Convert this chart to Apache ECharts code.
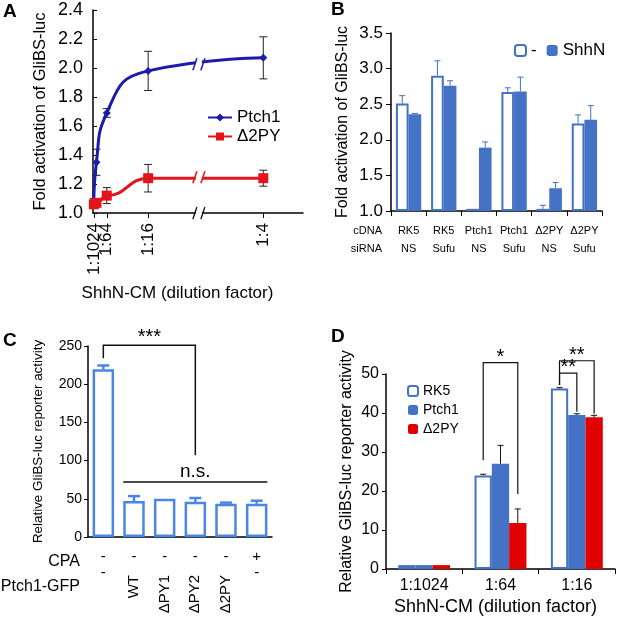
<!DOCTYPE html>
<html><head><meta charset="utf-8">
<script src="https://cdn.jsdelivr.net/npm/echarts@6/dist/echarts.min.js"></script>
<style>html,body{margin:0;padding:0;background:#fff}#c{width:617px;height:619px}</style>
</head><body><div id="c"></div>
<script>
const FONT = '"Liberation Sans", Arial, sans-serif';

// ---------- Panel A ----------
const dilutionA = [1/1024, 1/256, 1/64, 1/16, 1/4];
const ptch1A = [1.08, 1.35, 1.69, 1.98, 2.07];
const ptch1ErrA = [0.02, 0.09, 0.03, 0.135, 0.145];
const d2pyA = [1.06, 1.07, 1.12, 1.24, 1.24];
const d2pyErrA = [0.02, 0.02, 0.055, 0.095, 0.055];
const tickValuesA = [1/1024, 1/64, 1/16, 1/4];
const tickLabelsA = ['1:1024', '1:64', '1:16', '1:4'];
const breakA = {start: 0.12, end: 0.177};

// ---------- Panel B ----------
const cdnaB = ['RK5', 'RK5', 'Ptch1', 'Ptch1', 'Δ2PY', 'Δ2PY'];
const sirnaB = ['NS', 'Sufu', 'NS', 'Sufu', 'NS', 'Sufu'];
const noShhB = [2.51, 2.90, 1.03, 2.67, 1.03, 2.23];
const noShhErrB = [0.11, 0.21, 0, 0.06, 0.05, 0.12];
const shhB = [2.36, 2.76, 1.89, 2.68, 1.32, 2.28];
const shhErrB = [0.01, 0.07, 0.08, 0.20, 0.08, 0.20];

// ---------- Panel C ----------
const cpaC = ['-', '-', '-', '-', '-', '+'];
const ptch1GfpC = ['-', 'WT', 'ΔPY1', 'ΔPY2', 'Δ2PY', '-'];
const valuesC = [219.5, 47, 50, 46, 43.5, 43.5];
const errC = [5, 6.5, 0.5, 5, 1.5, 4];
// [fromCat, fromY, level, toCat, toY, labelY]
const bracketsC = [[0, 234, 251, 3, 107, 261]];
const bracketLabelsC = ['***'];
// [fromCat, toCat, level, labelY]
const nsLinesC = [[1, 5, 72, 85]];
const nsLabelsC = ['n.s.'];

// ---------- Panel D ----------
const dilutionD = ['1:1024', '1:64', '1:16'];
const rk5D = [1.0, 24.0, 46.3];
const rk5ErrD = [0.05, 0.3, 0.2];
const ptch1D = [1.0, 27.0, 39.5];
const ptch1ErrD = [0.05, 4.7, 0.3];
const d2pyD = [1.0, 11.8, 38.9];
const d2pyErrD = [0.05, 3.6, 0.5];
// [cat, fromBar, fromY, level, toBar, toY, labelY]
const bracketsD = [
  [1, 0, 27.9, 52.9, 2, 19.2, 54.3],
  [2, 0, 47.2, 53.4, 2, 39.8, 54.8],
  [2, 0, 47.2, 50.2, 1, 40.3, 51.6]
];
const bracketLabelsD = ['*', '**', '**'];

// ---------- colours ----------
const BLUE_A = '#1c1cab', RED_A = '#e3151b';
const BLUE_B = '#4472c4', BLUE_C = '#4a86e8', RED_D = '#e00000';

function txt(size) { return {fontSize: size, fontFamily: FONT, color: '#000'}; }
const axisLineBlack = {show: true, lineStyle: {color: '#000', width: 1.5}};

function errBarRender(groupCount, idx, gapFrac, color, capW, lw) {
  return function (params, api) {
    const cat = api.value(0);
    const p0 = api.coord([cat, api.value(1)]);
    const p1 = api.coord([cat, api.value(2)]);
    const band = api.size([1, 0])[0];
    const gw = band * (1 - gapFrac);
    const bw = gw / groupCount;
    const x = p0[0] - gw / 2 + bw * (idx + 0.5);
    if (Math.abs(p0[1] - p1[1]) < 0.5) return null;
    return {type: 'group', children: [
      {type: 'line', shape: {x1: x, y1: p0[1], x2: x, y2: p1[1]}, style: {stroke: color, lineWidth: lw}},
      {type: 'line', shape: {x1: x - capW / 2, y1: p1[1], x2: x + capW / 2, y2: p1[1]}, style: {stroke: color, lineWidth: lw}}
    ]};
  };
}
function errSeries(xi, yi, vals, errs, groupCount, idx, gapFrac, color, capW, lw) {
  return {type: 'custom', xAxisIndex: xi, yAxisIndex: yi, clip: false, z: 5,
    renderItem: errBarRender(groupCount, idx, gapFrac, color, capW, lw),
    encode: {x: 0, y: [1, 2]},
    data: vals.map((v, i) => [i, v, v + errs[i]])};
}
function errLineSeries(xs, vals, errs, color) {
  return {type: 'custom', xAxisIndex: 0, yAxisIndex: 0, clip: false, z: 1,
    encode: {x: 0, y: [1, 2]},
    data: vals.map((v, i) => [xs[i], v - errs[i], v + errs[i]]),
    renderItem: function (params, api) {
      const a = api.coord([api.value(0), api.value(1)]);
      const b = api.coord([api.value(0), api.value(2)]);
      const x = a[0];
      return {type: 'group', children: [
        {type: 'line', shape: {x1: x, y1: a[1], x2: x, y2: b[1]}, style: {stroke: color, lineWidth: 1}},
        {type: 'line', shape: {x1: x - 4, y1: a[1], x2: x + 4, y2: a[1]}, style: {stroke: color, lineWidth: 1}},
        {type: 'line', shape: {x1: x - 4, y1: b[1], x2: x + 4, y2: b[1]}, style: {stroke: color, lineWidth: 1}}
      ]};
    }};
}
function labelForA(v) {
  let best = 0;
  tickValuesA.forEach((t, i) => { if (Math.abs(t - v) < Math.abs(tickValuesA[best] - v)) best = i; });
  return tickLabelsA[best];
}
// Panel A x axis; labels split over two overlaid axes so the close 1:1024 / 1:64 labels both show
function axisA(values, withLine) {
  return {
    type: 'value', gridIndex: 0, min: 0, max: 0.295, position: 'bottom',
    breaks: [{start: breakA.start, end: breakA.end, gap: 0}],
    breakArea: {show: false, expandOnClick: false, itemStyle: {opacity: 0}},
    axisLine: withLine ? axisLineBlack : {show: false},
    axisTick: {show: true, length: 5, customValues: values, lineStyle: {color: '#000'}},
    axisLabel: {customValues: values, rotate: 90, margin: 10, hideOverlap: false, ...txt(17), formatter: labelForA},
    splitLine: {show: false}
  };
}

const GAP_B = 0.28, GAP_C = 0.30, GAP_D = 0.32;

const option = {
  animation: false,
  backgroundColor: '#fff',
  textStyle: {fontFamily: FONT},
  grid: [
    {left: 93, top: 10, width: 210, height: 203, outerBoundsMode: 'none'},
    {left: 391, top: 33, width: 211, height: 178, outerBoundsMode: 'none'},
    {left: 88, top: 346, width: 184, height: 191, outerBoundsMode: 'none'},
    {left: 386, top: 374, width: 229, height: 195, outerBoundsMode: 'none'}
  ],
  legend: [
    {data: ['Ptch1', 'Δ2PY'], left: 202, top: 104, orient: 'vertical', itemWidth: 24, itemHeight: 10, itemGap: 2,
      textStyle: txt(17), selectedMode: false},
    {data: ['B:-', 'B:ShhN'], left: 509, top: 37, itemWidth: 11, itemHeight: 11, itemGap: 10,
      formatter: n => n.slice(2), textStyle: txt(17), selectedMode: false},
    {data: ['D:RK5', 'D:Ptch1', 'D:Δ2PY'], left: 402, top: 379, orient: 'vertical', itemWidth: 10, itemHeight: 10, itemGap: 5,
      formatter: n => n.slice(2), textStyle: txt(14), selectedMode: false}
  ],
  xAxis: [
    Object.assign(axisA([tickValuesA[0], tickValuesA[2], tickValuesA[3]], true), {
      name: 'ShhN-CM (dilution factor)', nameLocation: 'middle', nameGap: 72,
      nameTextStyle: {...txt(17), padding: [0, 41, 0, 0]}
    }),
    { // 1: B
      type: 'category', gridIndex: 1, data: cdnaB,
      axisLine: axisLineBlack,
      axisTick: {show: true, length: 5, lineStyle: {color: '#000'}},
      axisLabel: {interval: 0, margin: 11, lineHeight: 18, ...txt(11),
        formatter: (v, i) => cdnaB[i] + '\n' + sirnaB[i]}
    },
    { // 2: C, CPA row
      type: 'category', gridIndex: 2, data: cpaC,
      axisLine: axisLineBlack, axisTick: {show: false},
      axisLabel: {interval: 0, margin: 12, ...txt(15)}
    },
    { // 3: C, Ptch1-GFP dash row
      type: 'category', gridIndex: 2, data: ptch1GfpC, position: 'bottom',
      axisLine: {show: false}, axisTick: {show: false},
      axisLabel: {interval: 0, margin: 28, ...txt(15), formatter: (v, i) => ptch1GfpC[i] === '-' ? '-' : ''}
    },
    { // 4: C, Ptch1-GFP rotated names
      type: 'category', gridIndex: 2, data: ptch1GfpC, position: 'bottom',
      axisLine: {show: false}, axisTick: {show: false},
      axisLabel: {interval: 0, margin: 38, rotate: 90, ...txt(15), formatter: (v, i) => ptch1GfpC[i] === '-' ? '' : ptch1GfpC[i]}
    },
    { // 5: D
      type: 'category', gridIndex: 3, data: dilutionD,
      axisLine: axisLineBlack,
      axisTick: {show: true, length: 5, lineStyle: {color: '#000'}},
      axisLabel: {interval: 0, margin: 9, ...txt(16)},
      name: 'ShhN-CM (dilution factor)', nameLocation: 'middle', nameGap: 29,
      nameTextStyle: {...txt(18), padding: [0, 10, 0, 0]}
    },
    axisA([tickValuesA[1]], false) // 6: A, second label layer
  ],
  yAxis: [
    {type: 'value', gridIndex: 0, min: 1, max: 2.4, interval: 0.2,
      axisLine: axisLineBlack, axisTick: {show: true, inside: true, length: 4, lineStyle: {color: '#000'}},
      axisLabel: {margin: 10, ...txt(18), formatter: v => v.toFixed(1)}, splitLine: {show: false},
      name: 'Fold activation of GliBS-luc', nameLocation: 'middle', nameGap: 44, nameTextStyle: txt(16.5)},
    {type: 'value', gridIndex: 1, min: 1, max: 3.5, interval: 0.5, startValue: 1,
      axisLine: axisLineBlack, axisTick: {show: true, length: 5, lineStyle: {color: '#000'}},
      axisLabel: {margin: 8, ...txt(17), formatter: v => v.toFixed(1)}, splitLine: {show: false},
      name: 'Fold activation of GliBS-luc', nameLocation: 'middle', nameGap: 40, nameTextStyle: txt(16)},
    {type: 'value', gridIndex: 2, min: 0, max: 250, interval: 50,
      axisLine: axisLineBlack, axisTick: {show: true, length: 4, lineStyle: {color: '#000'}},
      axisLabel: {margin: 6, ...txt(14)}, splitLine: {show: false},
      name: 'Relative GliBS-luc reporter activity', nameLocation: 'middle', nameGap: 43, nameTextStyle: txt(13.4)},
    {type: 'value', gridIndex: 3, min: 0, max: 50, interval: 10,
      axisLine: axisLineBlack, axisTick: {show: true, length: 4, lineStyle: {color: '#000'}},
      axisLabel: {margin: 7, ...txt(16)}, splitLine: {show: false},
      name: 'Relative GliBS-luc reporter activity', nameLocation: 'middle', nameGap: 31, nameTextStyle: txt(16)}
  ],
  series: [
    // ----- A -----
    errLineSeries(dilutionA, ptch1A, ptch1ErrA, '#222'),
    errLineSeries(dilutionA, d2pyA, d2pyErrA, '#222'),
    {name: 'Ptch1', type: 'line', xAxisIndex: 0, yAxisIndex: 0, smooth: 0.55,
      symbol: 'diamond', symbolSize: 8, z: 3,
      lineStyle: {color: BLUE_A, width: 3}, itemStyle: {color: BLUE_A},
      data: dilutionA.map((x, i) => [x, ptch1A[i]])},
    {name: 'Δ2PY', type: 'line', xAxisIndex: 0, yAxisIndex: 0, smooth: 0.5, smoothMonotone: 'x',
      symbol: 'rect', symbolSize: 10, z: 4,
      lineStyle: {color: RED_A, width: 3}, itemStyle: {color: RED_A},
      data: dilutionA.map((x, i) => [x, d2pyA[i]])},
    // ----- B -----
    {name: 'B:-', type: 'bar', xAxisIndex: 1, yAxisIndex: 1, barGap: '0%', barCategoryGap: (GAP_B * 100) + '%',
      itemStyle: {color: '#fff', borderColor: BLUE_B, borderWidth: 2}, data: noShhB},
    {name: 'B:ShhN', type: 'bar', xAxisIndex: 1, yAxisIndex: 1, barGap: '0%', barCategoryGap: (GAP_B * 100) + '%',
      itemStyle: {color: BLUE_B}, data: shhB},
    errSeries(1, 1, noShhB, noShhErrB, 2, 0, GAP_B, BLUE_B, 6, 1),
    errSeries(1, 1, shhB, shhErrB, 2, 1, GAP_B, BLUE_B, 6, 1),
    // ----- C -----
    {name: 'C', type: 'bar', xAxisIndex: 2, yAxisIndex: 2, barCategoryGap: (GAP_C * 100) + '%',
      itemStyle: {color: '#fff', borderColor: BLUE_C, borderWidth: 2.5}, data: valuesC},
    errSeries(2, 2, valuesC, errC, 1, 0, GAP_C, BLUE_C, 12, 2.5),
    {type: 'custom', xAxisIndex: 2, yAxisIndex: 2, clip: false, z: 6,
      encode: {x: [0, 3], y: [1, 2, 4]},
      data: bracketsC,
      renderItem: function (params, api) {
        const a = api.coord([api.value(0), api.value(1)]);
        const top = api.coord([api.value(0), api.value(2)])[1];
        const b = api.coord([api.value(3), api.value(4)]);
        const ly = api.coord([api.value(0), api.value(5)])[1];
        return {type: 'group', children: [
          {type: 'polyline', shape: {points: [[a[0], a[1]], [a[0], top], [b[0], top], [b[0], b[1]]]},
            style: {stroke: '#111', lineWidth: 1.5, fill: null}},
          {type: 'text', x: (a[0] + b[0]) / 2, y: ly,
            style: {text: bracketLabelsC[params.dataIndex], fontSize: 20, fontFamily: FONT, fill: '#000', align: 'center', verticalAlign: 'middle'}}
        ]};
      }},
    {type: 'custom', xAxisIndex: 2, yAxisIndex: 2, clip: false, z: 6,
      encode: {x: [0, 1], y: [2, 3]},
      data: nsLinesC,
      renderItem: function (params, api) {
        const band = api.size([1, 0])[0];
        const half = band * (1 - GAP_C) / 2;
        const a = api.coord([api.value(0), api.value(2)]);
        const b = api.coord([api.value(1), api.value(2)]);
        const ly = api.coord([api.value(0), api.value(3)])[1];
        return {type: 'group', children: [
          {type: 'line', shape: {x1: a[0] - half, y1: a[1], x2: b[0] + half, y2: b[1]}, style: {stroke: '#111', lineWidth: 1.5}},
          {type: 'text', x: (a[0] - half + b[0] + half) / 2, y: ly,
            style: {text: nsLabelsC[params.dataIndex], fontSize: 19, fontFamily: FONT, fill: '#000', align: 'center', verticalAlign: 'middle'}}
        ]};
      }},
    // ----- D -----
    {name: 'D:RK5', type: 'bar', xAxisIndex: 5, yAxisIndex: 3, barGap: '0%', barCategoryGap: (GAP_D * 100) + '%',
      itemStyle: {color: '#fff', borderColor: BLUE_B, borderWidth: 2}, data: rk5D},
    {name: 'D:Ptch1', type: 'bar', xAxisIndex: 5, yAxisIndex: 3, barGap: '0%', barCategoryGap: (GAP_D * 100) + '%',
      itemStyle: {color: BLUE_B}, data: ptch1D},
    {name: 'D:Δ2PY', type: 'bar', xAxisIndex: 5, yAxisIndex: 3, barGap: '0%', barCategoryGap: (GAP_D * 100) + '%',
      itemStyle: {color: RED_D}, data: d2pyD},
    errSeries(5, 3, rk5D, rk5ErrD, 3, 0, GAP_D, '#111', 6, 1),
    errSeries(5, 3, ptch1D, ptch1ErrD, 3, 1, GAP_D, '#111', 6, 1),
    errSeries(5, 3, d2pyD, d2pyErrD, 3, 2, GAP_D, '#111', 6, 1),
    {type: 'custom', xAxisIndex: 5, yAxisIndex: 3, clip: false, z: 6,
      encode: {x: 0, y: [2, 3, 5]},
      data: bracketsD,
      renderItem: function (params, api) {
        const band = api.size([1, 0])[0];
        const gw = band * (1 - GAP_D), bw = gw / 3;
        const c = api.coord([api.value(0), api.value(3)]);
        const x0 = c[0] - gw / 2 + bw * (api.value(1) + 0.5);
        const x1 = c[0] - gw / 2 + bw * (api.value(4) + 0.5);
        const y0 = api.coord([api.value(0), api.value(2)])[1];
        const y1 = api.coord([api.value(0), api.value(5)])[1];
        const ly = api.coord([api.value(0), api.value(6)])[1];
        const top = c[1];
        return {type: 'group', children: [
          {type: 'polyline', shape: {points: [[x0, y0], [x0, top], [x1, top], [x1, y1]]},
            style: {stroke: '#111', lineWidth: 1.2, fill: null}},
          {type: 'text', x: (x0 + x1) / 2, y: ly,
            style: {text: bracketLabelsD[params.dataIndex], fontSize: 20, fontFamily: FONT, fill: '#000', align: 'center', verticalAlign: 'middle'}}
        ]};
      }}
  ]
};

const chart = echarts.init(document.getElementById('c'), null, {renderer: 'canvas'});
chart.setOption(option);

// ---------- static texts and axis-break marks ----------
const graphics = [
  {type: 'text', x: 3, y: 12, style: {text: 'A', font: 'bold 19px ' + FONT, fill: '#000', verticalAlign: 'middle'}},
  {type: 'text', x: 331, y: 10, style: {text: 'B', font: 'bold 19px ' + FONT, fill: '#000', verticalAlign: 'middle'}},
  {type: 'text', x: 3, y: 341, style: {text: 'C', font: 'bold 19px ' + FONT, fill: '#000', verticalAlign: 'middle'}},
  {type: 'text', x: 331, y: 337, style: {text: 'D', font: 'bold 19px ' + FONT, fill: '#000', verticalAlign: 'middle'}},
  {type: 'text', x: 382, y: 231, style: {text: 'cDNA', font: '11px ' + FONT, fill: '#000', align: 'right', verticalAlign: 'middle'}},
  {type: 'text', x: 382, y: 249, style: {text: 'siRNA', font: '11px ' + FONT, fill: '#000', align: 'right', verticalAlign: 'middle'}},
  {type: 'text', x: 80, y: 562, style: {text: 'CPA', font: '16px ' + FONT, fill: '#000', align: 'right', verticalAlign: 'middle'}},
  {type: 'text', x: 80, y: 587, style: {text: 'Ptch1-GFP', font: '16px ' + FONT, fill: '#000', align: 'right', verticalAlign: 'middle'}}
];
function breakMark(x, y, color, lw) {
  return [
    {type: 'rect', shape: {x: x - 3, y: y - 4, width: 6, height: 8}, style: {fill: '#fff'}, z: 50},
    {type: 'line', shape: {x1: x - 6, y1: y + 6, x2: x - 2, y2: y - 6}, style: {stroke: color, lineWidth: lw}, z: 51},
    {type: 'line', shape: {x1: x + 2, y1: y + 6, x2: x + 6, y2: y - 6}, style: {stroke: color, lineWidth: lw}, z: 51}
  ];
}
const bxPix = chart.convertToPixel({xAxisIndex: 0, yAxisIndex: 0}, [breakA.start, 1])[0];
const axisY = chart.convertToPixel({xAxisIndex: 0, yAxisIndex: 0}, [0, 1])[1];
graphics.push(...breakMark(bxPix, axisY, '#000', 1.2));
[[ptch1A, BLUE_A], [d2pyA, RED_A]].forEach(([vals, col]) => {
  const p = chart.convertToPixel({xAxisIndex: 0, yAxisIndex: 0}, [dilutionA[3], vals[3]]);
  const q = chart.convertToPixel({xAxisIndex: 0, yAxisIndex: 0}, [dilutionA[4], vals[4]]);
  const t = (bxPix - p[0]) / (q[0] - p[0]);
  graphics.push(...breakMark(bxPix, p[1] + t * (q[1] - p[1]) - 1, col, 1.5));
});
chart.setOption({graphic: graphics});
</script></body></html>
